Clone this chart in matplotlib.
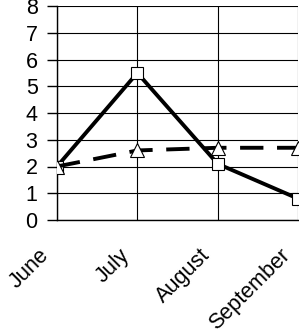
import matplotlib
matplotlib.use("Agg")
import matplotlib.pyplot as plt

plt.rcParams['font.family'] = ['Liberation Sans', 'DejaVu Sans']

months = ['June', 'July', 'August', 'September']
squares = [2.0, 5.5, 2.1, 0.8]
triangles = [2.0, 2.6, 2.7, 2.7]
y_ticks = [0, 1, 2, 3, 4, 5, 6, 7, 8]

fig = plt.figure(figsize=(2.99, 3.34), dpi=100)
ax = fig.add_axes([57 / 299, 1 - 220 / 334, 241 / 299, 214 / 334])

x = range(len(months))
ax.plot(x, squares, color='black', lw=2.8, marker='s', ms=8,
        mfc='white', mec='black', mew=0.8, zorder=3)
ax.plot(x, triangles, color='black', lw=2.8, ls=(0, (6, 3.5)), marker='^', ms=10,
        mfc='white', mec='black', mew=0.8, zorder=4)

ax.set_xlim(0, 3)
ax.set_ylim(0, 8)
ax.set_yticks(y_ticks)
ax.set_xticks(list(x))
ax.set_xticklabels([])
# month labels, rotated and pulled left of their tick like the original
for i, m in enumerate(months):
    ax.annotate(m, xy=(i, 0), xytext=(-11, -32), textcoords='offset pixels',
                rotation=45, ha='right', va='center', rotation_mode='anchor',
                fontsize=15.5, annotation_clip=False)
ax.tick_params(axis='x', length=0)
ax.tick_params(axis='y', length=7, width=1, direction='out', pad=7, labelsize=15.5)
ax.grid(True, color='black', lw=0.8)
ax.set_axisbelow(True)
for s in ['top', 'right']:
    ax.spines[s].set_visible(False)
ax.spines['left'].set_linewidth(1)
ax.spines['bottom'].set_linewidth(1)

fig.savefig('out.png', dpi=100)
